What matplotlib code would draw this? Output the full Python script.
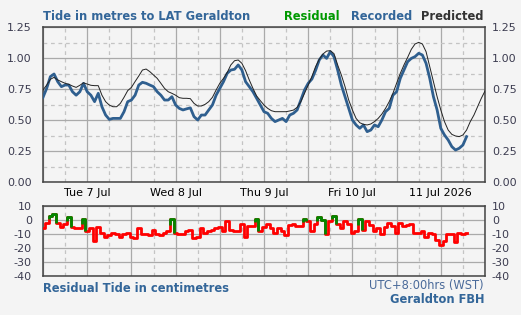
import numpy as np
import matplotlib.pyplot as plt
from matplotlib.ticker import MultipleLocator

plt.rcParams['font.family'] = 'DejaVu Sans'
plt.rcParams['axes.unicode_minus'] = False

# hourly values, starting Tue 7 Jul 00:00 WST
predicted = [0.742, 0.782, 0.828, 0.844, 0.823, 0.809, 0.796, 0.788, 0.774, 0.763,
             0.780, 0.800, 0.790, 0.780, 0.777, 0.777, 0.700, 0.648, 0.620, 0.607,
             0.607, 0.634, 0.683, 0.737, 0.763, 0.810, 0.855, 0.903, 0.911, 0.890,
             0.863, 0.836, 0.796, 0.755, 0.728, 0.715, 0.700, 0.680, 0.675, 0.675,
             0.672, 0.634, 0.613, 0.613, 0.626, 0.648, 0.683, 0.742, 0.796, 0.836,
             0.882, 0.944, 0.978, 0.984, 0.957, 0.898, 0.823, 0.755, 0.694, 0.656,
             0.621, 0.594, 0.575, 0.567, 0.567, 0.567, 0.567, 0.573, 0.580, 0.602,
             0.648, 0.715, 0.782, 0.850, 0.930, 0.989, 1.032, 1.056, 1.059, 1.035,
             0.944, 0.863, 0.769, 0.661, 0.581, 0.513, 0.478, 0.465, 0.460, 0.468,
             0.487, 0.513, 0.548, 0.594, 0.648, 0.715, 0.796, 0.876, 0.944, 1.005,
             1.070, 1.113, 1.126, 1.113, 1.051, 0.930, 0.809, 0.688, 0.581, 0.487,
             0.419, 0.384, 0.371, 0.366, 0.379, 0.419, 0.487, 0.540, 0.608, 0.675,
             0.734]

recorded = [0.683, 0.755, 0.850, 0.871, 0.809, 0.769, 0.782, 0.782, 0.728, 0.700,
            0.728, 0.796, 0.728, 0.700, 0.648, 0.715, 0.607, 0.540, 0.505, 0.513,
            0.513, 0.513, 0.567, 0.648, 0.661, 0.700, 0.782, 0.804, 0.796, 0.782,
            0.769, 0.728, 0.700, 0.661, 0.661, 0.688, 0.621, 0.594, 0.581, 0.590,
            0.598, 0.527, 0.500, 0.540, 0.540, 0.581, 0.621, 0.700, 0.755, 0.809,
            0.876, 0.903, 0.909, 0.944, 0.903, 0.809, 0.769, 0.728, 0.675, 0.621,
            0.567, 0.554, 0.513, 0.487, 0.500, 0.513, 0.487, 0.540, 0.554, 0.581,
            0.661, 0.742, 0.796, 0.830, 0.900, 0.984, 1.024, 0.997, 1.051, 1.010,
            0.903, 0.782, 0.688, 0.594, 0.500, 0.460, 0.433, 0.460, 0.406, 0.419,
            0.460, 0.446, 0.500, 0.567, 0.594, 0.700, 0.728, 0.836, 0.903, 0.970,
            0.997, 1.011, 1.038, 1.024, 0.957, 0.836, 0.688, 0.581, 0.433, 0.379,
            0.339, 0.285, 0.258, 0.272, 0.298, 0.366]

# residual in cm
residual = [-6, -2, 3, 4, -2, -5, -3, 2, -5, -6,
            -6, 1, -8, -6, -15, -5, -9, -12, -11, -9,
            -10, -12, -10, -9, -12, -13, -6, -10, -10, -11,
            -7, -10, -11, -9, -8, 1, -9, -10, -10, -8,
            -7, -13, -12, -6, -9, -8, -7, -6, -5, -7.5,
            -1, -7, -8, -7.5, -3, -12, -4, -4, 0.5, -8,
            -5, -3, -6, -9, -6, -8, -11, -3.5, -3, -4,
            -4, 1, -1, -8, -3, 2, 0, -10, -1, 3,
            -3, -6, -0.5, -3, -9, -8, 0.5, -7, -1, -3.5,
            -8, -6, -10, -5, -2, -4, -9, -2, -4.5, -3.5,
            -3, -9, -9.5, -8, -12, -9, -10, -14, -18, -15,
            -10, -10, -16, -9, -10, -9]

day_labels = ["Tue 7 Jul", "Wed 8 Jul", "Thu 9 Jul", "Fri 10 Jul", "11 Jul 2026"]
tide_ticks = [0, 0.25, 0.5, 0.75, 1.0, 1.25]
resid_ticks = [-40, -30, -20, -10, 0, 10]

t_pred = np.arange(len(predicted))
t_rec = np.arange(len(recorded))
resid = np.array(residual, dtype=float)

bg = '#f4f4f4'
blue = '#2f5f8f'
title_blue = '#336699'
tick_col = '#3c3c50'

fig = plt.figure(figsize=(5.21, 3.15), dpi=100)
fig.patch.set_facecolor(bg)
W, H = 521, 315

ax = fig.add_axes([43 / W, 133 / H, 442 / W, 155 / H])
axr = fig.add_axes([43 / W, 39 / H, 442 / W, 70 / H])


def setup(a):
    a.set_facecolor(bg)
    for s in a.spines.values():
        s.set_color('#444444')
        s.set_linewidth(1.1)
    a.set_xlim(0, 120)
    a.xaxis.set_minor_locator(MultipleLocator(6))
    a.grid(which='major', axis='x', color='#aaaaaa', lw=0.9, ls='-')
    a.grid(which='minor', axis='x', color='#c4c4c4', lw=0.9, ls=(0, (3, 3)))
    a.tick_params(which='both', length=0, labelsize=8, colors=tick_col, pad=8)
    a.set_axisbelow(True)


# top: tide heights
setup(ax)
xt = list(range(0, 121, 12))
xl = [day_labels[i // 2] if i % 2 == 1 else '' for i in range(len(xt))]
ax.set_xticks(xt, xl)
ax.tick_params(axis='x', colors='black', pad=4)
ax.set_ylim(0, 1.25)
ax.set_yticks(tide_ticks, [f"{v:.2f}" for v in tide_ticks])
ax.yaxis.set_minor_locator(MultipleLocator(0.125))
ax.grid(which='major', axis='y', color='#aaaaaa', lw=0.9, ls='-')
ax.grid(which='minor', axis='y', color='#c4c4c4', lw=0.9, ls=(0, (3, 3)))

ax.plot(t_rec, recorded, color=blue, lw=2.0, zorder=3)
ax.plot(t_pred, predicted, color='#222222', lw=0.7, zorder=4)

axt = ax.twinx()
axt.set_ylim(0, 1.25)
axt.set_yticks(tide_ticks, [f"{v:.2f}" for v in tide_ticks])
axt.tick_params(length=0, labelsize=8, colors=tick_col, pad=5)
for s in axt.spines.values():
    s.set_visible(False)

# bottom: residual
setup(axr)
axr.set_xticks(xt, [''] * len(xt))
axr.set_ylim(-40, 10)
axr.set_yticks(resid_ticks, [str(v) for v in resid_ticks])
axr.grid(which='major', axis='y', color='#aaaaaa', lw=0.9, ls='-')

axr.step(t_rec, resid, where='mid', color='#ff0000', lw=2.0, zorder=3)
for i in range(len(resid)):
    if resid[i] >= 0:
        prev = resid[i - 1] if i > 0 else resid[i]
        nxt = resid[i + 1] if i < len(resid) - 1 else resid[i]
        axr.plot([t_rec[i] - 0.5, t_rec[i] - 0.5, t_rec[i] + 0.5, t_rec[i] + 0.5],
                 [(prev + resid[i]) / 2, resid[i], resid[i], nxt],
                 color='#008800', lw=2.0, zorder=4, solid_capstyle='butt')

axrt = axr.twinx()
axrt.set_ylim(-40, 10)
axrt.set_yticks(resid_ticks, [str(v) for v in resid_ticks])
axrt.tick_params(length=0, labelsize=8, colors=tick_col, pad=5)
for s in axrt.spines.values():
    s.set_visible(False)

# texts
fs = 8.3
fig.text(43 / W, 1 - 16 / H, "Tide in metres to LAT Geraldton", color=title_blue,
         fontsize=fs, fontweight='bold', va='center', ha='left')
fig.text(340 / W, 1 - 16 / H, "Residual", color='#009900', fontsize=fs,
         fontweight='bold', va='center', ha='right')
fig.text(412 / W, 1 - 16 / H, "Recorded", color=title_blue, fontsize=fs,
         fontweight='bold', va='center', ha='right')
fig.text(484 / W, 1 - 16 / H, "Predicted", color='#333333', fontsize=fs,
         fontweight='bold', va='center', ha='right')
fig.text(43 / W, 1 - 289 / H, "Residual Tide in centimetres", color=title_blue,
         fontsize=fs, fontweight='bold', va='center', ha='left')
fig.text(484 / W, 1 - 286 / H, "UTC+8:00hrs (WST)", color='#4a6a9a',
         fontsize=fs, va='center', ha='right')
fig.text(484 / W, 1 - 299.5 / H, "Geraldton FBH", color=title_blue,
         fontsize=fs, fontweight='bold', va='center', ha='right')

fig.savefig("out.png", dpi=100, facecolor=bg)
